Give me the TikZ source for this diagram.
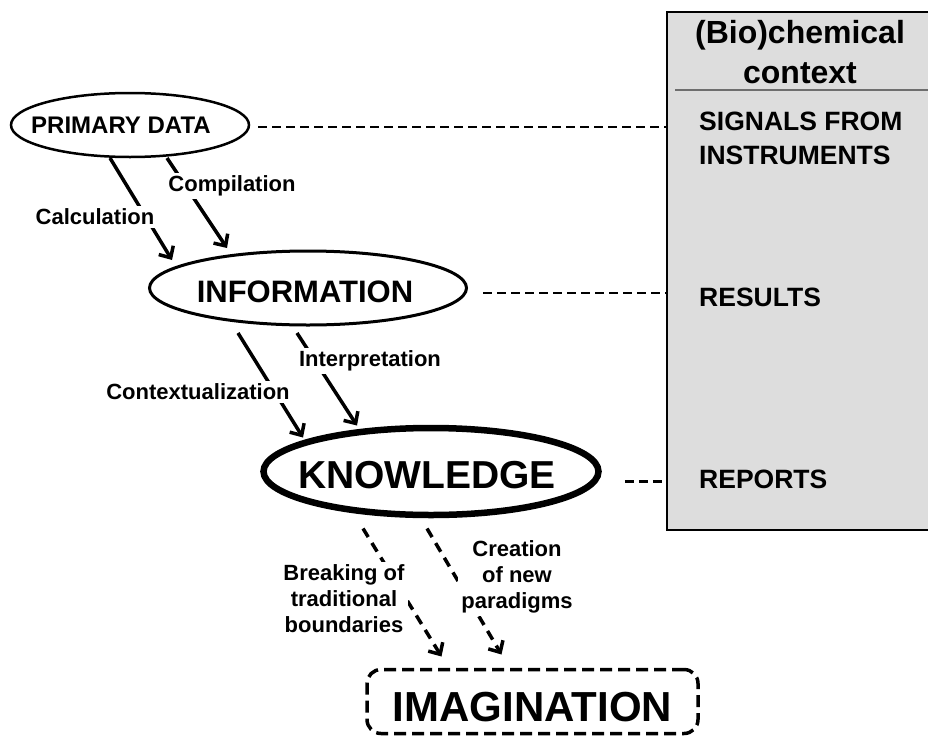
\documentclass[tikz,border=0pt]{standalone}
\usepackage{fontspec}
\setmainfont{Liberation Sans}
\usetikzlibrary{arrows.meta,calc,shapes.geometric}
\definecolor{boxgrey}{RGB}{221,221,221}
\definecolor{sepgrey}{RGB}{110,110,110}
\begin{document}
\begin{tikzpicture}[x=1pt,y=-1pt,
  lbl/.style={fill=white, inner sep=3pt, font=\bfseries\fontsize{22}{26}\selectfont, align=center},
  boxtxt/.style={anchor=west, inner sep=0pt, align=left, font=\bfseries\fontsize{26.5}{34}\selectfont},
  arr/.style={line width=3.5pt, -{Straight Barb[length=9pt,width=17pt,line width=3.5pt]}},
  darr/.style={line width=3.5pt, dash pattern=on 10pt off 7pt, -{Straight Barb[length=9pt,width=17pt,line width=3.5pt]}},
  conn/.style={line width=2.5pt, dash pattern=on 9pt off 5pt},
  ell/.style={ellipse, draw, inner sep=0pt}
]
\useasboundingbox (0,0) rectangle (928,736);

% grey context box
\node[fill=boxgrey, minimum width=261, minimum height=518, anchor=north west, inner sep=0pt] (box) at (667,12) {};
\draw[line width=2pt] (box.north east) -- (box.north west) -- (box.south west) -- (box.south east);
\draw[sepgrey, line width=1.5pt] ($(box.north west)+(8,78)$) -- ($(box.north east)+(0,78)$);
\node[font=\bfseries\fontsize{32}{40}\selectfont, align=center] (ctx) at (800,52) {(Bio)chemical\\context};
\node[boxtxt] (sig) at (699,138) {SIGNALS FROM\\INSTRUMENTS};
\node[boxtxt] (res) at (699,297) {RESULTS};
\node[boxtxt] (rep) at (699,479) {REPORTS};

% main nodes
\node[ell, line width=2.5pt, minimum width=238, minimum height=64] (pd) at (130,125) {};
\node[font=\bfseries\fontsize{24}{28}\selectfont] (pdt) at (121,125) {PRIMARY DATA};
\node[ell, line width=3pt, minimum width=317, minimum height=74] (info) at (308,288) {};
\node[font=\bfseries\fontsize{31}{36}\selectfont] (infot) at (305,291.5) {INFORMATION};
\node[ell, line width=6.5pt, minimum width=335, minimum height=87] (kn) at (431,471.5) {};
\node[font=\bfseries\fontsize{39}{44}\selectfont] (knt) at (427,475) {KNOWLEDGE};
\node[draw, line width=3.5pt, dash pattern=on 12pt off 6pt, rounded corners=14pt, minimum width=331, minimum height=64, inner sep=0pt] (im) at (532.5,701.5) {};
\node[font=\bfseries\fontsize{42}{48}\selectfont] (imt) at (532.5,707) {IMAGINATION};

% dashed links to the context box
\path ($(pd.east)+(8,2)$) coordinate (pdr);
\path ($(info.east)+(15,5)$) coordinate (infor);
\path ($(kn.east)+(23,10)$) coordinate (knr);
\draw[conn] (pdr) -- (pdr -| box.west);
\draw[conn] (infor) -- (infor -| box.west);
\draw[conn] (knr) -- (knr -| box.west);

% arrows
\draw[arr] ($(pd)+(-20,33)$) -- ($(info)+(-136,-28)$);
\draw[arr] ($(pd)+(37,33)$) -- ($(info)+(-81,-40)$);
\draw[arr] ($(info)+(-70,45)$) -- ($(kn)+(-128,-34)$);
\draw[arr] ($(info)+(-11,45)$) -- ($(kn)+(-74,-46)$);
\draw[darr] ($(kn)+(-68,57)$) -- ($(im)+(-91,-45)$);
\draw[darr] ($(kn)+(-4,57)$) -- ($(im)+(-31,-47)$);

% labels
\node[lbl] (lcalc) at (95,217) {Calculation};
\node[lbl] (lcomp) at (232,186) {Compilation};
\node[lbl] (lctx) at (198,392) {Contextualization};
\node[lbl] (lint) at (370,361) {Interpretation};
\node[lbl] (lbrk) at (344,599) {Breaking of\\traditional\\boundaries};
\node[lbl] (lcre) at (517,577) {Creation\\of new\\paradigms};
\end{tikzpicture}
\end{document}
